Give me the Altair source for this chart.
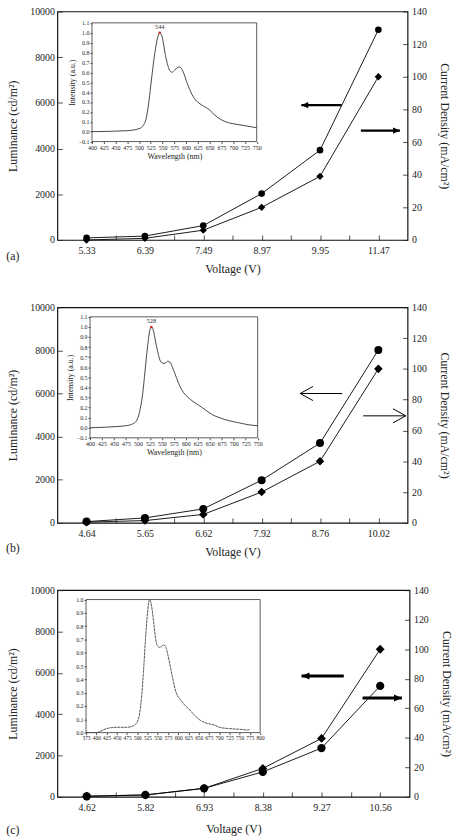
import json
import altair as alt
import pandas as pd

FONT = "Liberation Serif, Times New Roman, serif"

# ---------------- data ----------------
# panel (a)
volt_a = ["5.33", "6.39", "7.49", "8.97", "9.95", "11.47"]
lum_a = [90, 170, 630, 2030, 3930, 9200]
cur_a = [0, 1, 6, 20, 39, 100]
wl_a = [400, 475, 500, 510, 515, 520, 525, 530, 535, 540, 544, 550, 555, 560, 565, 570, 575,
        580, 585, 590, 595, 600, 610, 620, 630, 640, 650, 660, 675, 690, 700, 725, 750]
int_a = [0.0, 0.01, 0.03, 0.07, 0.13, 0.27, 0.47, 0.67, 0.84, 0.96, 1.0, 0.94, 0.80, 0.69, 0.62,
         0.60, 0.62, 0.64, 0.655, 0.64, 0.59, 0.52, 0.40, 0.32, 0.28, 0.25, 0.22, 0.17, 0.12,
         0.09, 0.08, 0.06, 0.04]
peak_a = 544

# panel (b)
volt_b = ["4.64", "5.65", "6.62", "7.92", "8.76", "10.02"]
lum_b = [60, 230, 650, 1980, 3700, 8020]
cur_b = [0.5, 1.5, 5.5, 20, 40, 100]
wl_b = [400, 450, 475, 490, 500, 505, 510, 515, 520, 525, 528, 532, 537, 542, 547, 552, 557,
        562, 567, 572, 577, 585, 595, 605, 615, 625, 640, 655, 670, 690, 710, 730, 750]
int_b = [0.0, 0.01, 0.02, 0.04, 0.10, 0.19, 0.34, 0.57, 0.80, 0.97, 1.0, 0.97, 0.85, 0.74, 0.66,
         0.64, 0.64, 0.66, 0.65, 0.60, 0.54, 0.44, 0.35, 0.30, 0.26, 0.23, 0.18, 0.13, 0.10,
         0.07, 0.05, 0.03, 0.02]
peak_b = 528

# panel (c)
volt_c = ["4.62", "5.82", "6.93", "8.38", "9.27", "10.56"]
lum_c = [30, 95, 414, 1210, 2360, 5370]
cur_c = [0.5, 1.3, 5.8, 19.3, 39.6, 100]
wl_c = [375, 400, 410, 425, 450, 475, 490, 500, 505, 510, 515, 520, 525, 530, 535, 540, 545,
        550, 555, 560, 565, 570, 575, 585, 595, 605, 615, 625, 640, 655, 670, 690, 700, 725,
        750, 770, 775]
int_c = [0.0, 0.0, 0.01, 0.03, 0.04, 0.04, 0.05, 0.08, 0.13, 0.25, 0.45, 0.70, 0.90, 1.0, 0.95,
         0.83, 0.70, 0.65, 0.64, 0.65, 0.66, 0.64, 0.58, 0.43, 0.30, 0.25, 0.21, 0.18, 0.13,
         0.09, 0.07, 0.055, 0.04, 0.03, 0.025, 0.02, 0.025]

# arrows: [tail index, tip index, level]
arrow_lum = {"a": [4.37, 3.68, 5900], "b": [4.38, 3.66, 6000], "c": [4.38, 3.66, 5850]}
arrow_cur = {"a": [4.70, 5.37, 67], "b": [4.74, 5.47, 69.5], "c": [4.70, 5.37, 67]}

LEFT_FILLED = "M0,0L1,-0.45L1,0.45Z"
RIGHT_FILLED = "M0,0L-1,-0.45L-1,0.45Z"
LEFT_OPEN = "M1,-0.55L0,0L1,0.55"
RIGHT_OPEN = "M-1,-0.55L0,0L-1,0.55"


def frange(a, b, s):
    out = []
    k = 0
    while a + k * s <= b + 1e-9:
        out.append(round(a + k * s, 3))
        k += 1
    return out


def panel(key, volts, lum, cur, wl, inten, peak, W, H, box, ixdom, iydom, ixstep,
          inset_titles, msize, arrow_style, label_dy, xtp, ilabel_size, dashed):
    n = len(volts)
    df = pd.DataFrame({"i": list(range(n)), "lum": lum, "cur": cur})
    xs = alt.Scale(domain=[-0.5, n - 0.5], nice=False, zero=False)
    ysl = alt.Scale(domain=[0, 10000], nice=False)
    ysc = alt.Scale(domain=[0, 140], nice=False)
    lexpr = json.dumps(volts) + "[round(datum.value)]"
    base = alt.Chart(df)

    lum_layer = base.mark_line(
        color="black", strokeWidth=0.9,
        point=alt.OverlayMarkDef(shape="circle", filled=True, color="black", size=msize, opacity=1),
    ).encode(
        x=alt.X("i:Q", scale=xs, title="Voltage (V)",
                axis=alt.Axis(orient="bottom", values=list(range(n)), labelExpr=lexpr, ticks=False,
                              domain=False, labelPadding=6, titlePadding=xtp)),
        y=alt.Y("lum:Q", scale=ysl, title="Luminance (cd/m²)",
                axis=alt.Axis(orient="left", values=frange(0, 10000, 2000), ticks=False, domain=False,
                              labelPadding=3, titlePadding=10, format="d")),
    )
    cur_layer = base.mark_line(
        color="black", strokeWidth=0.9,
        point=alt.OverlayMarkDef(shape="diamond", filled=True, color="black", size=msize + 10, opacity=1),
    ).encode(
        x=alt.X("i:Q", scale=xs, title=None,
                axis=alt.Axis(orient="top", offset=-H, values=frange(0, n - 1, 0.5), labels=False,
                              domain=False, tickSize=5)),
        y=alt.Y("cur:Q", scale=ysc, title="Current Density (mA/cm²)",
                axis=alt.Axis(orient="right", values=frange(0, 140, 20), ticks=False, domain=False,
                              labelPadding=4, titlePadding=11, format="d")),
    )
    tick_l = base.mark_point(opacity=0).encode(
        x=alt.X("i:Q", scale=xs, axis=None),
        y=alt.Y("lum:Q", scale=ysl, title=None,
                axis=alt.Axis(orient="right", offset=-W, values=frange(0, 10000, 2000), labels=False,
                              domain=False, tickSize=5)),
    )
    tick_c = base.mark_point(opacity=0).encode(
        x=alt.X("i:Q", scale=xs, axis=None),
        y=alt.Y("cur:Q", scale=ysc, title=None,
                axis=alt.Axis(orient="left", offset=-W, values=frange(0, 140, 20), labels=False,
                              domain=False, tickSize=5)),
    )

    # ---- inset ----
    x0, x1, yt, yb = box
    ix = alt.Scale(domain=ixdom, range=[x0, x1], nice=False, zero=False)
    iy = alt.Scale(domain=iydom, range=[yb, yt], nice=False, zero=False)
    spec = pd.DataFrame({"wl": wl, "y": inten})
    line_kw = dict(color="#333", strokeWidth=0.9, interpolate="monotone")
    if dashed:
        line_kw["strokeDash"] = [3, 0.6]
        line_kw["color"] = "#444"
    xt = "Wavelength (nm)" if inset_titles else None
    yt_title = "Intensity (a.u.)" if inset_titles else None
    spec_layer = alt.Chart(spec).mark_line(**line_kw).encode(
        x=alt.X("wl:Q", scale=ix, title=xt,
                axis=alt.Axis(orient="bottom", offset=-(H - yb), values=frange(ixdom[0], ixdom[1], ixstep),
                              labelFontSize=ilabel_size, titleFontSize=8, tickSize=2, labelPadding=1,
                              titlePadding=2, domain=False, format="d")),
        y=alt.Y("y:Q", scale=iy, title=yt_title,
                axis=alt.Axis(orient="left", offset=-x0, values=frange(iydom[0], iydom[1], 0.1),
                              labelFontSize=6, titleFontSize=8, tickSize=2, labelPadding=1,
                              titlePadding=2, domain=False, format=".1f")),
    )
    frame = alt.Chart(pd.DataFrame({"a": [ixdom[0]], "b": [ixdom[1]], "c": [iydom[0]], "d": [iydom[1]]})).mark_rect(
        fillOpacity=0, stroke="#333", strokeWidth=0.8
    ).encode(
        x=alt.X("a:Q", scale=ix, axis=None), x2="b:Q",
        y=alt.Y("c:Q", scale=iy, axis=None), y2="d:Q",
    )
    layers = [frame, spec_layer]
    if peak is not None:
        pk = alt.Chart(pd.DataFrame({"wl": [peak], "y": [1.0], "t": [str(peak)]}))
        layers.append(pk.mark_point(filled=True, color="#d62020", size=6, opacity=1).encode(
            x=alt.X("wl:Q", scale=ix, axis=None), y=alt.Y("y:Q", scale=iy, axis=None)))
        layers.append(pk.mark_text(font=FONT, fontSize=6.5, color="#333", dy=-6).encode(
            x=alt.X("wl:Q", scale=ix, axis=None), y=alt.Y("y:Q", scale=iy, axis=None), text="t:N"))

    # ---- arrows ----
    la = arrow_lum[key]
    ca = arrow_cur[key]
    adf_l = pd.DataFrame({"x": [la[0]], "x2": [la[1]], "y": [la[2]]})
    adf_c = pd.DataFrame({"x": [ca[0]], "x2": [ca[1]], "y": [ca[2]]})
    sw, head_size, filled = arrow_style
    lshape = LEFT_FILLED if filled else LEFT_OPEN
    rshape = RIGHT_FILLED if filled else RIGHT_OPEN
    arrows = []
    for adf, ysc_, shp in ((adf_l, ysl, lshape), (adf_c, ysc, rshape)):
        ac = alt.Chart(adf)
        arrows.append(ac.mark_rule(color="black", strokeWidth=sw).encode(
            x=alt.X("x:Q", scale=xs, axis=None), x2="x2:Q", y=alt.Y("y:Q", scale=ysc_, axis=None)))
        if filled:
            head = ac.mark_point(shape=shp, filled=True, color="black", size=head_size, opacity=1)
        else:
            head = ac.mark_point(shape=shp, filled=False, color="black", strokeWidth=1, size=head_size,
                                 opacity=1)
        arrows.append(head.encode(x=alt.X("x2:Q", scale=xs, axis=None), y=alt.Y("y:Q", scale=ysc_, axis=None)))

    lab = alt.Chart(pd.DataFrame({"t": ["(" + key + ")"]})).mark_text(
        font=FONT, fontSize=12, color="#222", align="center"
    ).encode(text="t:N", x=alt.value(-45), y=alt.value(H + label_dy))

    ch = alt.layer(lum_layer, cur_layer, tick_l, tick_c, *layers, *arrows, lab).resolve_scale(
        x="independent", y="independent"
    ).properties(width=W, height=H)
    return ch


pa = panel("a", volt_a, lum_a, cur_a, wl_a, int_a, peak_a, 354, 231,
           (35, 201.5, 11.5, 131.5), [400, 750], [-0.1, 1.1], 25, True, 45,
           (2.2, 196, True), 16, 8, 6, False)
pb = panel("b", volt_b, lum_b, cur_b, wl_b, int_b, peak_b, 354, 218,
           (33, 202.5, 9.7, 132), [400, 750], [-0.1, 1.1], 25, True, 65,
           (1.0, 676, False), 25, 8, 6, False)
pc = panel("c", volt_c, lum_c, cur_c, wl_c, int_c, None, 356, 209,
           (29, 205, 9.5, 144), [375, 800], [0.0, 1.0], 25, False, 70,
           (3.0, 256, True), 34, 11, 5.5, True)

chart = alt.vconcat(pa, pb, pc, spacing=26).properties(
    padding={"left": 5, "top": 1, "right": 5, "bottom": 0}
).configure(font=FONT).configure_axis(
    labelFont=FONT, titleFont=FONT, labelFontSize=10, titleFontSize=12, labelColor="#222",
    titleColor="#222", titleFontWeight="normal", grid=False, tickColor="#222", labelFlush=False,
    labelOverlap=False, tickWidth=0.8
).configure_view(stroke="#111", strokeWidth=1.2)

chart.save("out.html", embed_options={"renderer": "svg", "actions": False})
